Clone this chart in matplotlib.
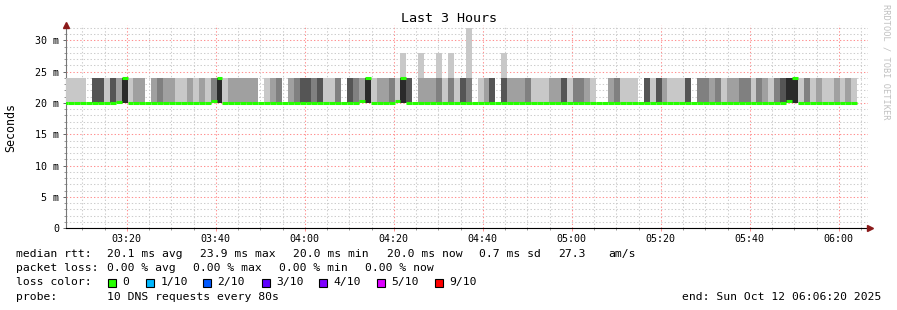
import matplotlib
matplotlib.use('Agg')
import matplotlib.pyplot as plt
from matplotlib.patches import Rectangle
import numpy as np

# SmokePing style latency graph, 80 s rrd steps
STEP = 80
axis_start = "03:06:20"
axis_span = 10800
first_step = "03:05:30"

tick_labels = ["03:20", "03:40", "04:00", "04:20", "04:40", "05:00", "05:20", "05:40", "06:00"]
y_ticks = [0, 5, 10, 15, 20, 25, 30]
y_tick_labels = ["0", "5 m", "10 m", "15 m", "20 m", "25 m", "30 m"]

# smoke shade per step: 0 none, 1 light ... 5 very dark
smoke_shade = [
    1, 1, 1, 1, 0, 4, 4, 1, 4, 2,
    5, 1, 2, 2, 0, 2, 3, 2, 2, 1,
    1, 2, 1, 2, 1, 3, 5, 1, 2, 2,
    2, 2, 2, 0, 1, 2, 3, 0, 2, 3,
    4, 4, 3, 4, 1, 1, 3, 0, 4, 3,
    2, 5, 1, 2, 2, 3, 1, 5, 4, 0,
    2, 2, 2, 3, 1, 3, 1, 4, 3, 0,
    1, 2, 4, 0, 4, 2, 2, 2, 3, 1,
    1, 1, 2, 2, 4, 1, 3, 3, 2, 1,
    0, 0, 2, 3, 1, 1, 1, 0, 4, 1,
    4, 2, 1, 1, 1, 4, 0, 3, 3, 2,
    3, 1, 2, 2, 3, 3, 1, 3, 2, 1,
    3, 4, 5, 5, 1, 3, 1, 2, 1, 1,
    2, 1, 2, 1,
]

# smoke top (ms) per step
smoke_top = [
    24, 24, 24, 24, 24, 24, 24, 24, 24, 24,
    24, 24, 24, 24, 24, 24, 24, 24, 24, 24,
    24, 24, 24, 24, 24, 24, 24, 24, 24, 24,
    24, 24, 24, 24, 24, 24, 24, 24, 24, 24,
    24, 24, 24, 24, 24, 24, 24, 24, 24, 24,
    24, 24, 24, 24, 24, 24, 24, 28, 24, 24,
    28, 24, 24, 28, 24, 28, 24, 24, 32, 24,
    24, 24, 24, 24, 28, 24, 24, 24, 24, 24,
    24, 24, 24, 24, 24, 24, 24, 24, 24, 24,
    24, 24, 24, 24, 24, 24, 24, 24, 24, 24,
    24, 24, 24, 24, 24, 24, 24, 24, 24, 24,
    24, 24, 24, 24, 24, 24, 24, 24, 24, 24,
    24, 24, 24, 24, 24, 24, 24, 24, 24, 24,
    24, 24, 24, 24,
]
smoke_bottom = 20

# median rtt (ms) per step
median_rtt = [
    20, 20, 20, 20, 20, 20, 20, 20, 20, 20.2,
    24, 20, 20, 20, 20, 20, 20, 20, 20, 20,
    20, 20, 20, 20, 20, 20.3, 24, 20, 20, 20,
    20, 20, 20, 20, 20, 20, 20, 20, 20, 20,
    20, 20, 20, 20, 20, 20, 20, 20, 20, 20,
    20.3, 24, 20, 20, 20, 20, 20.3, 24, 20, 20,
    20, 20, 20, 20, 20, 20, 20, 20, 20, 20,
    20, 20, 20, 20, 20, 20, 20, 20, 20, 20,
    20, 20, 20, 20, 20, 20, 20, 20, 20, 20,
    20, 20, 20, 20, 20, 20, 20, 20, 20, 20,
    20, 20, 20, 20, 20, 20, 20, 20, 20, 20,
    20, 20, 20, 20, 20, 20, 20, 20, 20, 20,
    20, 20, 20.3, 24, 20, 20, 20, 20, 20, 20,
    20, 20, 20, 20,
]

rtt_stats = ["20.1 ms avg", "23.9 ms max", "20.0 ms min", "20.0 ms now", "0.7 ms sd", "27.3", "am/s"]
loss_stats = ["0.00 % avg", "0.00 % max", "0.00 % min", "0.00 % now"]
loss_labels = ["0", "1/10", "2/10", "3/10", "4/10", "5/10", "9/10"]
loss_colors = ["#26ff00", "#00b8ff", "#0059ff", "#5e00ff", "#7e00ff", "#dd00ff", "#ff0000"]
probe_text = "10 DNS requests every 80s"
end_text = "end: Sun Oct 12 06:06:20 2025"

shade_colors = {1: "#c8c8c8", 2: "#a0a0a0", 3: "#808080", 4: "#555555", 5: "#2a2a2a"}
MONO = "DejaVu Sans Mono"
W, H = 897, 310


def secs(hms):
    parts = [int(p) for p in hms.split(":")]
    while len(parts) < 3:
        parts.append(0)
    return parts[0] * 3600 + parts[1] * 60 + parts[2]


def fx(x):
    return x / W


def fy(y):
    return 1 - y / H


t0 = secs(axis_start)
n = len(smoke_shade)
starts = secs(first_step) - t0 + STEP * np.arange(n)
shade = np.array(smoke_shade)
top = np.array(smoke_top, dtype=float)
med = np.array(median_rtt, dtype=float)

fig = plt.figure(figsize=(W / 100, H / 100), dpi=100)
ax = fig.add_axes([fx(66), fy(228), fx(868 - 66), (228 - 25) / H])
px_per_s = 89 / 1200
ax.set_xlim(0, (868 - 66) / px_per_s)
ax.set_ylim(0, (228 - 25) / 6.25)

# grid first, smoke drawn over it
ticks = [secs(t) - t0 for t in tick_labels]
ax.set_xticks(ticks)
ax.set_xticklabels(tick_labels, family=MONO, fontsize=7.2)
ax.set_xticks(np.arange(secs("03:10") - t0, axis_span, 300), minor=True)
ax.set_yticks(y_ticks)
ax.set_yticklabels(y_tick_labels, family=MONO, fontsize=7.2)
ax.set_yticks(np.arange(0, 33, 1), minor=True)
ax.set_axisbelow(True)
ax.grid(True, which='minor', color='#cccccc', linestyle=(0, (1.3, 2.0)), linewidth=0.75)
ax.grid(True, which='major', color='#ff9090', linestyle=(0, (1.3, 2.0)), linewidth=0.75)
ax.tick_params(which='major', length=2.5, width=0.7, color='#ff9090', pad=1.5)
ax.tick_params(which='minor', length=1.5, width=0.7, color='#999999')
ax.tick_params(axis='y', which='major', color='#666666', pad=2.5)

# smoke
has = shade > 0
lo_top = np.minimum(top, 24)
ax.bar(starts[has], lo_top[has] - smoke_bottom, bottom=smoke_bottom, width=STEP, align='edge',
       color=[shade_colors[s] for s in shade[has]], linewidth=0, zorder=3)
up = has & (top > 24)
ax.bar(starts[up], top[up] - 24, bottom=24, width=STEP, align='edge',
       color=shade_colors[1], linewidth=0, zorder=3)

# median line
ax.hlines(med, starts, starts + STEP, colors=loss_colors[0], linewidth=2.2, zorder=4)

for s in ['top', 'right']:
    ax.spines[s].set_visible(False)
ax.spines['left'].set_color('#777777')
ax.spines['left'].set_linewidth(0.8)
ax.spines['bottom'].set_color('#000000')
ax.spines['bottom'].set_linewidth(0.8)
ax.plot([0], [1], marker='^', color='#8b1a1a', markersize=4.5, transform=ax.transAxes, clip_on=False, zorder=5)
ax.plot([1.003], [0], marker='>', color='#8b1a1a', markersize=4.5, transform=ax.transAxes, clip_on=False, zorder=5)

# texts
fig.text(0.5, fy(19), "Last 3 Hours", ha='center', va='center', family=MONO, fontsize=9.6)
fig.text(fx(11), fy(127), "Seconds", rotation=90, ha='center', va='center', family=MONO, fontsize=8.4)
fig.text(fx(886), fy(4), "RRDTOOL / TOBI OETIKER", rotation=270, ha='center', va='top',
         family=MONO, fontsize=6.2, color='#c0c0c0')

LEG = 8.2
fig.text(fx(16), fy(254), "median rtt:", va='center', family=MONO, fontsize=LEG)
for s, x in zip(rtt_stats, [107, 200, 293, 387, 479, 558, 608]):
    fig.text(fx(x), fy(254), s, va='center', family=MONO, fontsize=LEG)

fig.text(fx(16), fy(268), "packet loss:", va='center', family=MONO, fontsize=LEG)
for s, x in zip(loss_stats, [107, 193, 279, 365]):
    fig.text(fx(x), fy(268), s, va='center', family=MONO, fontsize=LEG)

fig.text(fx(16), fy(282), "loss color:", va='center', family=MONO, fontsize=LEG)
for lab, col, x in zip(loss_labels, loss_colors, [108, 146, 203, 262, 319, 377, 435]):
    fig.patches.append(Rectangle((fx(x), fy(287)), 8 / W, 8 / H, transform=fig.transFigure,
                                 facecolor=col, edgecolor='black', linewidth=0.8))
    fig.text(fx(x + 14.5), fy(282), lab, va='center', family=MONO, fontsize=LEG)

fig.text(fx(16), fy(296.5), "probe:", va='center', family=MONO, fontsize=LEG)
fig.text(fx(107), fy(296.5), probe_text, va='center', family=MONO, fontsize=LEG)
fig.text(fx(881), fy(296.5), end_text, va='center', ha='right', family=MONO, fontsize=LEG)

fig.savefig('out.png', dpi=100)
